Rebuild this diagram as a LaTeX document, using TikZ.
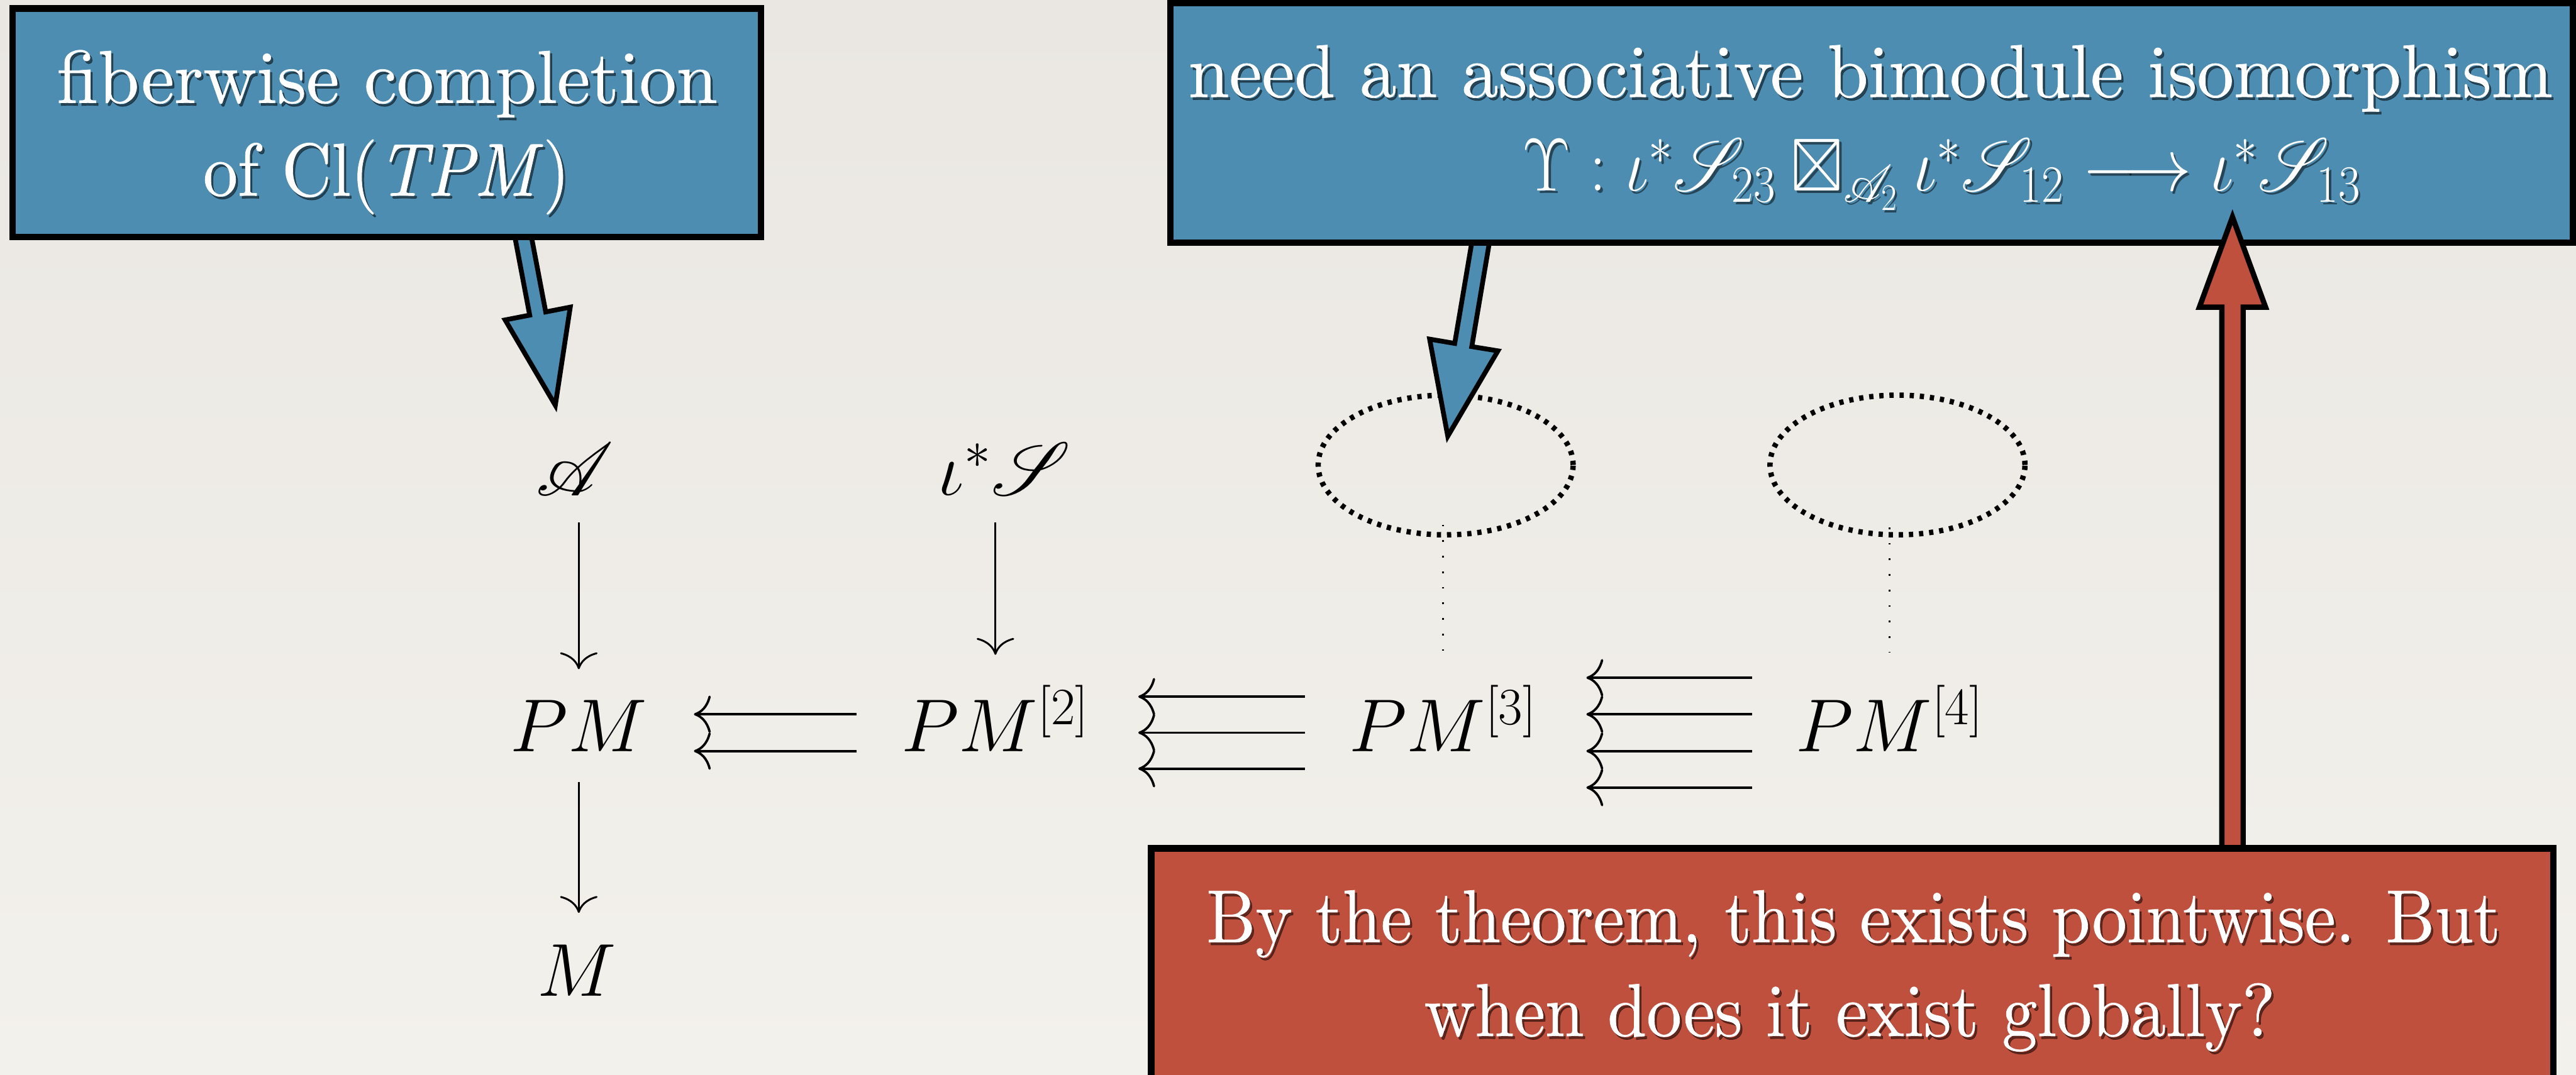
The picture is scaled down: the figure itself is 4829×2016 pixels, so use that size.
\RequirePackage{fix-cm}
\documentclass[tikz,border=0pt]{standalone}
\usepackage{graphicx}
\usepackage{amssymb}
\usepackage{mathrsfs}
\DeclareFontFamily{U}{rsfs}{\skewchar\font127 }
\DeclareFontShape{U}{rsfs}{m}{n}{<-> rsfs10}{}
\usepackage{fontspec}
\newfontfamily\boxfont{lmroman10-regular}[Extension=.otf, ItalicFont=lmroman10-italic, FakeBold=0.6]
\usetikzlibrary{arrows.meta,shapes.geometric}
\definecolor{papertop}{RGB}{234,231,226}
\definecolor{paperbot}{RGB}{243,241,236}
\definecolor{boxblue}{RGB}{77,141,178}
\definecolor{boxred}{RGB}{191,80,61}
\tikzset{
  bluebox/.style={draw=black, line width=1.2mm, fill=boxblue, inner sep=0pt, outer sep=0pt},
  redbox/.style={draw=black, line width=1.2mm, fill=boxred, inner sep=0pt, outer sep=0pt},
  fatblue/.style={draw=black, line width=0.9mm, fill=boxblue, line join=miter},
  fatred/.style={draw=black, line width=1.0mm, fill=boxred, line join=miter},
  btext/.style={text=white, font=\boxfont\fontsize{40}{50}\selectfont, anchor=base, inner sep=0pt},
  bshadow/.style={btext, text=black, opacity=0.5},
  cdnode/.style={font=\fontsize{40}{48}\selectfont, inner sep=0pt, outer sep=0pt, anchor=base, text height=9.5mm, text depth=2.3mm},
  cdv/.style={line width=1pt, -{Computer Modern Rightarrow[length=9pt,width=20pt]}},
  cdh/.style={line width=1.25pt, -{Computer Modern Rightarrow[length=9pt,width=20pt]}},
  bigdots/.style={draw=black, line width=1.0mm, dash pattern=on 0.8mm off 1.1mm},
  smalldots/.style={draw=black, line width=0.32mm, dash pattern=on 0.32mm off 2.6mm}
}
\newcommand{\wtext}[5]{%
  \node[bshadow] (#1s) at (#2+4,#3+5) {\scalebox{#4}[1]{#5}};
  \node[btext] (#1) at (#2,#3) {\scalebox{#4}[1]{#5}};}
\begin{document}
\begin{tikzpicture}[x=0.1mm, y=-0.1mm]
\useasboundingbox (0,0) rectangle (4829,2016);
\shade[top color=papertop, bottom color=paperbot] (0,0) rectangle (4829,2016);

% diagram
\node[cdnode] (A) at (1077,930) {$\mathscr{A}$};
\node[cdnode] (iS) at (1883,929) {$\iota^*\mathscr{S}$};
\node[cdnode] (PM) at (1085,1410) {$PM$};
\node[cdnode] (PM2) at (1866,1410) {$PM^{[2]}$};
\node[cdnode] (PM3) at (2705,1410) {$PM^{[3]}$};
\node[cdnode] (PM4) at (3542,1410) {$PM^{[4]}$};
\node[cdnode] (M) at (1081,1868) {$M$};

\draw[cdv, shorten <=2.7mm, shorten >=6mm] (A.south -| PM.north) -- (PM.north);
\draw[cdv, shorten <=2.8mm, shorten >=8.7mm] (iS.south -| PM2.north) -- (PM2.north);
\draw[cdv, shorten <=3.4mm, shorten >=6.1mm] (PM.south) -- (PM.south |- M.north);

\foreach \s in {3.45,-3.45}
  \draw[cdh, shorten <=8.4mm, shorten >=8.8mm] ([yshift=\s mm]PM2.west) -- ([yshift=\s mm]PM.east);
\foreach \s in {6.75,0,-6.75}
  \draw[cdh, shorten <=8.3mm, shorten >=9.2mm] ([yshift=\s mm]PM3.west) -- ([yshift=\s mm]PM2.east);
\foreach \s in {10.3,3.45,-3.45,-10.3}
  \draw[cdh, shorten <=8.2mm, shorten >=9.3mm] ([yshift=\s mm]PM4.west) -- ([yshift=\s mm]PM3.east);

\node[bigdots, ellipse, minimum width=47.8mm, minimum height=26.2mm, inner sep=0pt] (E1) at (2710,872) {};
\node[bigdots, ellipse, minimum width=47.8mm, minimum height=26.2mm, inner sep=0pt] (E2) at (3557,872) {};
\draw[smalldots, shorten <=-2.4mm, shorten >=9mm] (E1.south -| PM3.north) -- (PM3.north);
\draw[smalldots, shorten <=-1.9mm, shorten >=9.2mm] (E2.south -| PM4.north) -- (PM4.north);

% blue callout arrows
\filldraw[fatblue] (963,433) -- (993,591) -- (947,600) -- (1041,760) -- (1069,576) -- (1023,585) -- (993,427) -- cycle;
\filldraw[fatblue] (2762,437) -- (2727,644) -- (2680,636) -- (2714,818) -- (2808,658) -- (2759,650) -- (2794,443) -- cycle;

% boxes
\node[bluebox, minimum width=140.3mm, minimum height=42.8mm] (B1) at (725.5,230) {};
\node[bluebox, minimum width=262.9mm, minimum height=44.9mm] (B2) at (3508.5,230.5) {};

% red arrow
\filldraw[fatred] (4165,1600) -- (4165,576) -- (4123,576) -- (4185,407) -- (4247,576) -- (4205,576) -- (4205,1600) -- cycle;
\node[redbox, minimum width=262.9mm, minimum height=43.1mm] (B3) at (3472.5,1806.5) {};

% texts
\wtext{t1a}{726}{193}{0.987}{fiberwise completion}
\wtext{t1b}{724.5}{367}{0.92}{of Cl(\textit{TPM})}
\wtext{t2a}{3506.5}{182}{0.979}{need an associative bimodule isomorphism}
\wtext{t2b}{3640}{358}{0.90}{$\Upsilon:\iota^*\mathscr{S}_{23}\boxtimes_{\mathscr{A}_2}\iota^*\mathscr{S}_{12}\longrightarrow\iota^*\mathscr{S}_{13}$}
\wtext{t3a}{3474.5}{1767}{0.926}{By the theorem, this exists pointwise. But}
\wtext{t3b}{3467.5}{1943}{0.936}{when does it exist globally?}
\end{tikzpicture}
\end{document}
